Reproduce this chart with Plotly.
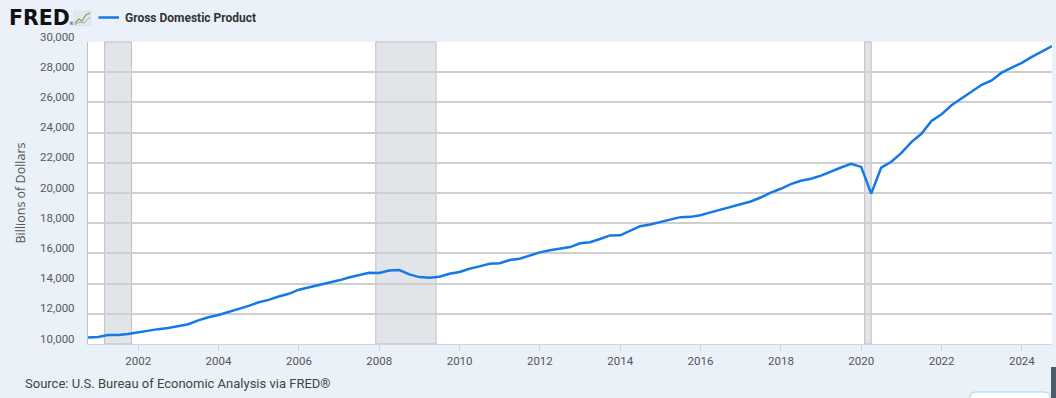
import plotly.graph_objects as go

# ---- Data (quarterly GDP, billions of dollars, SAAR) ----
dates = [
    "2000-10-01",
    "2001-01-01", "2001-04-01", "2001-07-01", "2001-10-01",
    "2002-01-01", "2002-04-01", "2002-07-01", "2002-10-01",
    "2003-01-01", "2003-04-01", "2003-07-01", "2003-10-01",
    "2004-01-01", "2004-04-01", "2004-07-01", "2004-10-01",
    "2005-01-01", "2005-04-01", "2005-07-01", "2005-10-01",
    "2006-01-01", "2006-04-01", "2006-07-01", "2006-10-01",
    "2007-01-01", "2007-04-01", "2007-07-01", "2007-10-01",
    "2008-01-01", "2008-04-01", "2008-07-01", "2008-10-01",
    "2009-01-01", "2009-04-01", "2009-07-01", "2009-10-01",
    "2010-01-01", "2010-04-01", "2010-07-01", "2010-10-01",
    "2011-01-01", "2011-04-01", "2011-07-01", "2011-10-01",
    "2012-01-01", "2012-04-01", "2012-07-01", "2012-10-01",
    "2013-01-01", "2013-04-01", "2013-07-01", "2013-10-01",
    "2014-01-01", "2014-04-01", "2014-07-01", "2014-10-01",
    "2015-01-01", "2015-04-01", "2015-07-01", "2015-10-01",
    "2016-01-01", "2016-04-01", "2016-07-01", "2016-10-01",
    "2017-01-01", "2017-04-01", "2017-07-01", "2017-10-01",
    "2018-01-01", "2018-04-01", "2018-07-01", "2018-10-01",
    "2019-01-01", "2019-04-01", "2019-07-01", "2019-10-01",
    "2020-01-01", "2020-04-01", "2020-07-01", "2020-10-01",
    "2021-01-01", "2021-04-01", "2021-07-01", "2021-10-01",
    "2022-01-01", "2022-04-01", "2022-07-01", "2022-10-01",
    "2023-01-01", "2023-04-01", "2023-07-01", "2023-10-01",
    "2024-01-01", "2024-04-01", "2024-07-01", "2024-10-01",
]
gdp = [
    10436,
    10470, 10599, 10598, 10661,
    10784, 10888, 10984, 11061,
    11174, 11313, 11567, 11772,
    11923, 12113, 12305, 12527,
    12767, 12923, 13143, 13324,
    13599, 13753, 13870, 14040,
    14216, 14402, 14564, 14715,
    14707, 14866, 14899, 14608,
    14431, 14381, 14449, 14651,
    14765, 14980, 15142, 15310,
    15351, 15558, 15648, 15842,
    16069, 16207, 16320, 16420,
    16666, 16736, 16950, 17190,
    17200, 17520, 17800, 17910,
    18080, 18280, 18400, 18420,
    18530, 18720, 18890, 19080,
    19280, 19440, 19700, 20030,
    20280, 20590, 20810, 20940,
    21150, 21430, 21690, 21930,
    21728, 19960, 21685, 22069,
    22657, 23368, 23921, 24777,
    25215, 25806, 26272, 26734,
    27164, 27454, 27968, 28297,
    28624, 29017, 29375, 29724,
]

# NBER recession periods (shaded)
rec_start = ["2001-03-01", "2007-12-01", "2020-02-01"]
rec_end = ["2001-11-01", "2009-06-01", "2020-04-01"]

# y-axis ticks and labels
y_ticks = [10000, 12000, 14000, 16000, 18000, 20000, 22000, 24000, 26000, 28000, 30000]
y_tick_labels = ["10,000", "12,000", "14,000", "16,000", "18,000", "20,000",
                 "22,000", "24,000", "26,000", "28,000", "30,000"]

series_name = "Gross Domestic Product"
y_title = "Billions of Dollars"
source_text = "Source: U.S. Bureau of Economic Analysis via FRED®"

# ---- Layout geometry ----
W, H = 1056, 398
ML, MR, MT, MB = 88, 4, 42, 54
PW, PH = W - ML - MR, H - MT - MB


def px(xp):
    return (xp - ML) / PW


def py(yp):
    return (H - MB - yp) / PH


BG = "#eaf1f9"
LINE = "#1479e6"

fig = go.Figure()
fig.add_trace(go.Scatter(
    x=dates, y=gdp, mode="lines", name=series_name,
    line=dict(color=LINE, width=2.5), showlegend=False,
))

shapes = []
for s, e in zip(rec_start, rec_end):
    shapes.append(dict(type="rect", xref="x", yref="paper", x0=s, x1=e, y0=0, y1=1,
                       fillcolor="#e1e5ea", line=dict(color="#bfbfbf", width=1), layer="below"))

# legend line
shapes.append(dict(type="line", xref="paper", yref="paper", x0=px(98.5), x1=px(119), y0=py(17.5), y1=py(17.5),
                   line=dict(color=LINE, width=2.5)))
# FRED icon
shapes.append(dict(type="rect", xref="paper", yref="paper", x0=px(74), x1=px(91), y0=py(25.5), y1=py(11),
                   fillcolor="#e3e8ee", line=dict(color="#d0d6de", width=0.5)))
shapes.append(dict(type="path", xref="paper", yref="paper",
                   path="M {},{} L {},{} L {},{} L {},{} L {},{}".format(
                       px(75), py(23), px(79), py(19), px(82), py(21), px(86), py(15), px(90), py(13)),
                   line=dict(color="#6aa84f", width=1.2)))
shapes.append(dict(type="path", xref="paper", yref="paper",
                   path="M {},{} L {},{} L {},{} L {},{}".format(
                       px(75), py(24.5), px(80), py(22), px(84), py(23), px(90), py(17)),
                   line=dict(color="#9aa7b5", width=1)))
# bottom-right page artifacts
shapes.append(dict(type="rect", xref="paper", yref="paper", x0=px(1051), x1=px(1057), y0=py(399), y1=py(367),
                   fillcolor="#4d5b6f", line=dict(width=0)))
shapes.append(dict(type="path", xref="paper", yref="paper",
                   path="M {},{} L {},{} Q {},{} {},{} L {},{} Q {},{} {},{} L {},{} Z".format(
                       px(970), py(402), px(970), py(397), px(970), py(392), px(976), py(392),
                       px(1044), py(392), px(1050), py(392), px(1050), py(397), px(1050), py(402)),
                   fillcolor="#ffffff", line=dict(color="#a6cdf2", width=1)))

annotations = [
    dict(text="<b>FRED</b>", xref="paper", yref="paper", x=px(6.5), y=py(17.5), xanchor="left", yanchor="middle",
         showarrow=False, font=dict(family="DejaVu Sans", size=20.5, color="#111111")),
    dict(text="®", xref="paper", yref="paper", x=px(66.5), y=py(23.5), xanchor="left", yanchor="middle",
         showarrow=False, font=dict(family="DejaVu Sans", size=5, color="#111111")),
    dict(text="<b>" + series_name + "</b>", xref="paper", yref="paper", x=px(123), y=py(17.5),
         xanchor="left", yanchor="middle", showarrow=False,
         font=dict(family="Roboto", size=12, color="#333333")),
    dict(text=source_text, xref="paper", yref="paper", x=px(23), y=py(383.5), xanchor="left", yanchor="middle",
         showarrow=False, font=dict(family="Roboto", size=13, color="#444444")),
]
# y tick labels, sitting just above their grid lines (FRED style)
for v, lab in zip(y_ticks, y_tick_labels):
    annotations.append(dict(text=lab, xref="paper", yref="y", x=0, y=v, xanchor="right", yanchor="middle",
                            xshift=-11, yshift=5.5, showarrow=False,
                            font=dict(family="Roboto", size=11.5, color="#5a5a5a")))

fig.update_layout(
    width=W, height=H,
    margin=dict(l=ML, r=MR, t=MT, b=MB, pad=0),
    paper_bgcolor=BG, plot_bgcolor="#ffffff",
    font=dict(family="Roboto", color="#555555"),
    shapes=shapes, annotations=annotations,
    xaxis=dict(
        type="date", range=["2000-10-01", "2024-10-01"],
        tick0="2002-01-01", dtick="M24", tickformat="%Y",
        showgrid=False, showline=True, linecolor="#ccd6eb", linewidth=1,
        ticks="outside", ticklen=6, tickcolor="#ccd6eb", tickwidth=1,
        tickfont=dict(family="Roboto", size=11.5, color="#555555"),
        fixedrange=True,
    ),
    yaxis=dict(
        range=[10000, 30000], tickmode="array", tickvals=y_ticks, showticklabels=False,
        showgrid=True, gridcolor="#cfcfcf", gridwidth=1.5,
        showline=True, linecolor="#c2c2c2", linewidth=1,
        ticks="",
        title=dict(text=y_title, font=dict(family="Open Sans", size=12.5, color="#555555"), standoff=58),
        zeroline=False, fixedrange=True,
    ),
)

fig.write_html("out.html")
